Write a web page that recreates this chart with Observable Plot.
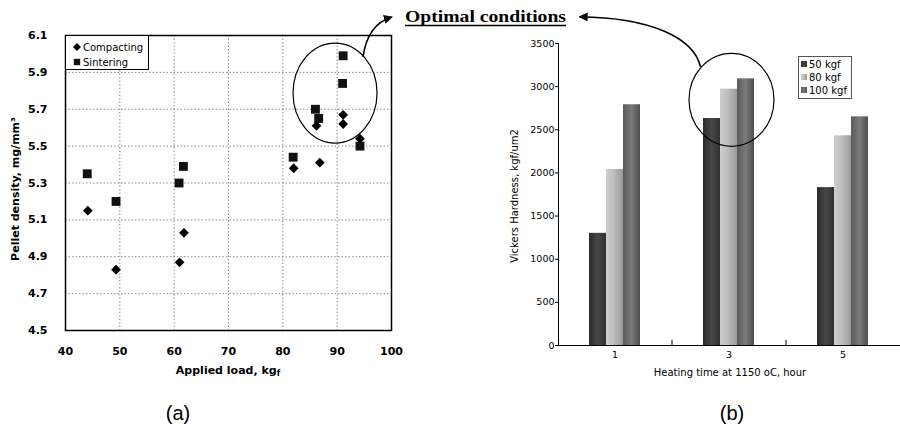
<!DOCTYPE html>
<html>
<head>
<meta charset="utf-8">
<script src="https://cdn.jsdelivr.net/npm/d3@7"></script>
<script src="https://cdn.jsdelivr.net/npm/@observablehq/plot@0.6"></script>
<style>
html, body { margin: 0; padding: 0; background: #fff; }
#wrap { position: relative; width: 900px; height: 425px; overflow: hidden; background: #fff; }
#wrap > svg { position: absolute; }
</style>
</head>
<body>
<div id="wrap"></div>
<script>
// ---------- Panel (a): pellet density vs applied load ----------
const loadCompacting = [44.1, 49.3, 61.0, 61.8, 82.0, 86.8, 86.2, 91.1, 91.1, 94.2];
const densCompacting = [5.15, 4.83, 4.87, 5.03, 5.38, 5.41, 5.61, 5.67, 5.62, 5.54];
const loadSintering  = [44.0, 49.3, 60.9, 61.7, 81.9, 86.0, 86.6, 91.1, 91.0, 94.2];
const densSintering  = [5.35, 5.20, 5.30, 5.39, 5.44, 5.70, 5.65, 5.99, 5.84, 5.50];
const loadTicks = [40, 50, 60, 70, 80, 90, 100];
const densTicks = [4.5, 4.7, 4.9, 5.1, 5.3, 5.5, 5.7, 5.9, 6.1];
const seriesA = ["Compacting", "Sintering"];

// ---------- Panel (b): Vickers hardness vs heating time ----------
const hours = [1, 3, 5];
const hv50  = [1300, 2630, 1830];
const hv80  = [2040, 2970, 2430];
const hv100 = [2790, 3090, 2650];
const hvTicks = [0, 500, 1000, 1500, 2000, 2500, 3000, 3500];
const seriesB = ["50 kgf", "80 kgf", "100 kgf"];

// annotation anchors (data units)
const optimalA = {load: 89.7, density: 5.785};
const optimalB = {hour: 3, hv: 2842};

const wrap = document.getElementById("wrap");
const NS = "http://www.w3.org/2000/svg";

// gradient defs for the textured bars
const defs = document.createElementNS(NS, "svg");
defs.setAttribute("width", 0); defs.setAttribute("height", 0);
defs.innerHTML = `
<defs>
  <linearGradient id="g50" x1="0" x2="1" y1="0" y2="0">
    <stop offset="0" stop-color="#2a2a2a"/><stop offset="0.5" stop-color="#474747"/><stop offset="1" stop-color="#303030"/>
  </linearGradient>
  <linearGradient id="g80" x1="0" x2="1" y1="0" y2="0">
    <stop offset="0" stop-color="#cfcfcf"/><stop offset="0.45" stop-color="#bdbdbd"/><stop offset="1" stop-color="#9a9a9a"/>
  </linearGradient>
  <linearGradient id="g100" x1="0" x2="1" y1="0" y2="0">
    <stop offset="0" stop-color="#5a5a5a"/><stop offset="0.5" stop-color="#7a7a7a"/><stop offset="1" stop-color="#4e4e4e"/>
  </linearGradient>
  <marker id="ah" viewBox="0 0 10 10" refX="9" refY="5" markerWidth="9" markerHeight="9" markerUnits="userSpaceOnUse" orient="auto">
    <path d="M0,0 L10,5 L0,10 z" fill="#000"/>
  </marker>
</defs>`;
wrap.appendChild(defs);

const compacting = loadCompacting.map((x, i) => ({load: x, density: densCompacting[i], series: seriesA[0]}));
const sintering  = loadSintering.map((x, i) => ({load: x, density: densSintering[i], series: seriesA[1]}));

const pa = Plot.plot({
  width: 420, height: 390,
  marginLeft: 65, marginRight: 29, marginTop: 35, marginBottom: 60,
  style: {fontFamily: "DejaVu Sans", fontSize: "11px", fontWeight: "bold", color: "#000", background: "transparent", overflow: "visible"},
  x: {domain: [40, 100], ticks: loadTicks, tickSize: 0, tickPadding: 17, label: null, tickFormat: d => String(d)},
  y: {domain: [4.5, 6.1], ticks: densTicks, tickSize: 0, tickPadding: 18, label: null, tickFormat: d => d.toFixed(1)},
  marks: [
    Plot.ruleX(loadTicks.slice(1, -1), {stroke: "#8a8a8a", strokeWidth: 1, strokeDasharray: "1.5,2"}),
    Plot.ruleY(densTicks.slice(1, -1), {stroke: "#8a8a8a", strokeWidth: 1, strokeDasharray: "1.5,2"}),
    Plot.dot(sintering, {x: "load", y: "density", symbol: "square", r: 5, fill: "#111", stroke: "none"}),
    Plot.dot(compacting, {x: "load", y: "density", symbol: "diamond2", r: 4.4, fill: "#000", stroke: "none"}),
    Plot.frame({stroke: "#000", strokeWidth: 1.5})
  ]
});
pa.style.left = "0px"; pa.style.top = "0px";
wrap.appendChild(pa);

const hvRows = hours.map((h, i) => ({hour: h, v50: hv50[i], v80: hv80[i], v100: hv100[i]}));
const PBX = 500;
const pb = Plot.plot({
  width: 400, height: 390,
  marginLeft: 58, marginRight: 0, marginTop: 43, marginBottom: 45,
  style: {fontFamily: "DejaVu Sans", fontSize: "9.5px", color: "#000", background: "transparent", overflow: "visible"},
  x: {type: "band", domain: hours, paddingInner: 0.85, paddingOuter: 0.425, tickSize: 0, tickPadding: 6, label: null, line: true, tickFormat: d => String(d)},
  y: {domain: [0, 3500], ticks: hvTicks, tickSize: 3, tickPadding: 1, label: null, line: true, tickFormat: d => String(d)},
  marks: [
    Plot.barY(hvRows, {x: "hour", y: "v50", dx: -17, fill: "url(#g50)"}),
    Plot.barY(hvRows, {x: "hour", y: "v80", dx: 0, fill: "url(#g80)"}),
    Plot.barY(hvRows, {x: "hour", y: "v100", dx: 17, fill: "url(#g100)"}),
    Plot.ruleX(hours.slice(1), {x: d => d, dx: -57, y1: 0, y2: 60, stroke: "#000"})
  ]
});
pb.style.left = PBX + "px"; pb.style.top = "0px";
wrap.appendChild(pb);

// ---------- overlay: labels, legends, annotations ----------
const sxA = pa.scale("x"), syA = pa.scale("y");
const sxB = pb.scale("x"), syB = pb.scale("y");
const ea = {cx: sxA.apply(optimalA.load), cy: syA.apply(optimalA.density)};
const eb = {cx: PBX + sxB.apply(optimalB.hour) + sxB.bandwidth / 2 + 3, cy: syB.apply(optimalB.hv)};

const ov = document.createElementNS(NS, "svg");
ov.setAttribute("width", 900); ov.setAttribute("height", 425);
ov.style.left = "0px"; ov.style.top = "0px"; ov.style.pointerEvents = "none";

const sym = (s, r) => d3.symbol(s, Math.PI * r * r)();
ov.innerHTML = `
<g font-family="DejaVu Sans" fill="#000">
  <!-- panel (a) axis labels -->
  <text x="228" y="374" text-anchor="middle" font-size="11" font-weight="bold">Applied load, kg<tspan font-size="8" dy="2">f</tspan></text>
  <text transform="translate(19,189) rotate(-90)" text-anchor="middle" font-size="11" font-weight="bold">Pellet density, mg/mm³</text>
  <!-- panel (a) legend -->
  <rect x="65.5" y="35.5" width="83" height="34" fill="#fff" stroke="#000" stroke-width="1"/>
  <path transform="translate(77,47)" d="${sym(d3.symbolDiamond2, 3.6)}" fill="#000"/>
  <path transform="translate(77,62)" d="${sym(d3.symbolSquare, 3.6)}" fill="#111"/>
  <text x="83" y="50.5" font-size="10">${seriesA[0]}</text>
  <text x="83" y="66" font-size="10">${seriesA[1]}</text>

  <!-- panel (b) axis labels -->
  <text x="730" y="376" text-anchor="middle" font-size="10">Heating time at 1150 oC, hour</text>
  <text transform="translate(518,196) rotate(-90)" text-anchor="middle" font-size="10">Vickers Hardness, kgf/um2</text>
  <!-- panel (b) legend -->
  <rect x="798.5" y="56.5" width="53" height="42" fill="#fff" stroke="#555" stroke-width="1"/>
  <rect x="801" y="61" width="6" height="6" fill="url(#g50)"/>
  <rect x="801" y="74" width="6" height="6" fill="url(#g80)"/>
  <rect x="801" y="87" width="6" height="6" fill="url(#g100)"/>
  <text x="809" y="67.5" font-size="10">${seriesB[0]}</text>
  <text x="809" y="80.5" font-size="10">${seriesB[1]}</text>
  <text x="809" y="94" font-size="10">${seriesB[2]}</text>

  <!-- panel captions -->
  <text x="178" y="420" text-anchor="middle" font-family="Liberation Sans" font-size="20">(a)</text>
  <text x="732" y="420" text-anchor="middle" font-family="Liberation Sans" font-size="20">(b)</text>
</g>
<!-- annotation -->
<ellipse cx="${ea.cx}" cy="${ea.cy}" rx="42" ry="50" fill="none" stroke="#000" stroke-width="1.2"/>
<ellipse cx="${eb.cx}" cy="${eb.cy}" rx="42.5" ry="46.5" fill="none" stroke="#000" stroke-width="1.2"/>
<path d="M${ea.cx + 28},${ea.cy - 36} C${ea.cx + 31},${ea.cy - 58} ${ea.cx + 40},${ea.cy - 71} ${ea.cx + 57},${ea.cy - 76}" fill="none" stroke="#000" stroke-width="1.6" marker-end="url(#ah)"/>
<path d="M${eb.cx - 31},${eb.cy - 33} C${eb.cx - 38},${eb.cy - 62} ${eb.cx - 80},${eb.cy - 82} ${eb.cx - 152},${eb.cy - 83}" fill="none" stroke="#000" stroke-width="1.6" marker-end="url(#ah)"/>
<text x="405" y="22" font-family="Liberation Serif" font-weight="bold" font-size="17" textLength="161" lengthAdjust="spacingAndGlyphs">Optimal conditions</text>
<line x1="405" x2="566" y1="25.5" y2="25.5" stroke="#000" stroke-width="1.3"/>
`;
wrap.appendChild(ov);
</script>
</body>
</html>
